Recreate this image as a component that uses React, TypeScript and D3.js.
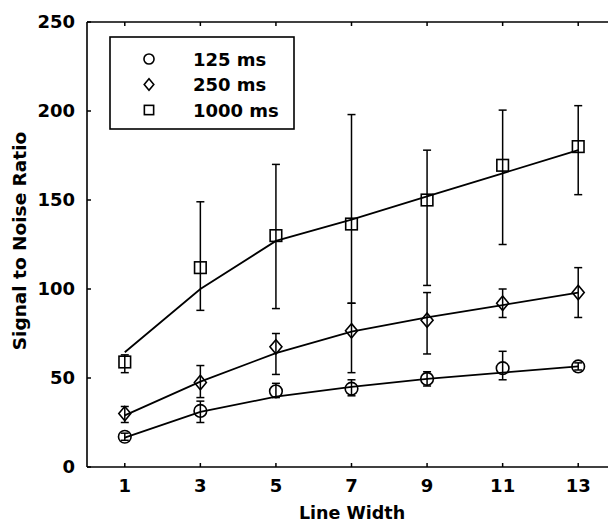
import React from "react";
import * as d3 from "d3";

const widths = [1, 3, 5, 7, 9, 11, 13];

const snr125 = [17, 31.5, 42.5, 44, 49.5, 55.5, 56.5];
const hi125 = [19, 37, 47, 49, 53.5, 65, 58.5];
const lo125 = [15, 25, 39, 40, 45.5, 49, 54.5];
const fit125 = [16.5, 31, 39.5, 45, 49.5, 53, 56.5];

const snr250 = [30, 47.5, 67.5, 76.5, 82.5, 92, 98];
const hi250 = [34, 57, 75, 92, 98, 100, 112];
const lo250 = [25, 39, 52, 53, 63.5, 84, 84];
const fit250 = [29, 48, 64, 76, 84, 91, 98];

const snr1000 = [59, 112, 130, 136.5, 150, 169.5, 180];
const hi1000 = [63, 149, 170, 198, 178, 200.5, 203];
const lo1000 = [53, 88, 89, 92, 102, 125, 153];
const fit1000 = [64.5, 100, 127, 139, 152, 165, 178];

const xTicks = [1, 3, 5, 7, 9, 11, 13];
const yTicks = [0, 50, 100, 150, 200, 250];
const legendLabels = ["125 ms", "250 ms", "1000 ms"];

const W = 608;
const H = 527;
const FONT = "'DejaVu Sans', sans-serif";

type Shape = "circle" | "diamond" | "square";

function Marker({ shape, x, y, s = 1 }: { shape: Shape; x: number; y: number; s?: number }) {
  const common = { fill: "none", stroke: "#000", strokeWidth: 1.6 };
  if (shape === "circle") return <circle cx={x} cy={y} r={6.3 * s} {...common} />;
  if (shape === "square")
    return <rect x={x - 5.8 * s} y={y - 5.8 * s} width={11.6 * s} height={11.6 * s} {...common} />;
  const hw = 6 * s, hh = 7.2 * s;
  return <path d={`M${x},${y - hh}L${x + hw},${y}L${x},${y + hh}L${x - hw},${y}Z`} {...common} />;
}

export default function App() {
  const x = d3.scaleLinear().domain([0, 14]).range([87, 616]);
  const y = d3.scaleLinear().domain([0, 250]).range([467, 22]);
  const line = d3
    .line<number>()
    .x((_, i) => x(widths[i]))
    .y((d) => y(d));

  const series: { shape: Shape; v: number[]; hi: number[]; lo: number[]; fit: number[] }[] = [
    { shape: "circle", v: snr125, hi: hi125, lo: lo125, fit: fit125 },
    { shape: "diamond", v: snr250, hi: hi250, lo: lo250, fit: fit250 },
    { shape: "square", v: snr1000, hi: hi1000, lo: lo1000, fit: fit1000 },
  ];
  const [x0] = x.range();
  const [yb, yt] = y.range();
  const cap = 4;

  return (
    <svg
      width={W}
      height={H}
      style={{ position: "absolute", left: 0, top: 0, background: "#fff" }}
      fontFamily={FONT}
      fontWeight={700}
    >
      <rect x={0} y={0} width={W} height={H} fill="#fff" />
      {series.map((s, i) => (
        <path key={"f" + i} d={line(s.fit) || ""} fill="none" stroke="#000" strokeWidth={1.8} />
      ))}
      {series.map((s, i) =>
        widths.map((w, j) => (
          <g key={`e${i}-${j}`} stroke="#000" strokeWidth={1.5}>
            <line x1={x(w)} x2={x(w)} y1={y(s.hi[j])} y2={y(s.lo[j])} />
            <line x1={x(w) - cap} x2={x(w) + cap} y1={y(s.hi[j])} y2={y(s.hi[j])} />
            <line x1={x(w) - cap} x2={x(w) + cap} y1={y(s.lo[j])} y2={y(s.lo[j])} />
          </g>
        ))
      )}
      {series.map((s, i) =>
        widths.map((w, j) => <Marker key={`m${i}-${j}`} shape={s.shape} x={x(w)} y={y(s.v[j])} />)
      )}
      <g stroke="#000" strokeWidth={1.6} fill="none">
        <line x1={x0} x2={x0} y1={yt} y2={yb} />
        <line x1={x0} x2={W} y1={yb} y2={yb} />
        <line x1={x0} x2={W} y1={yt} y2={yt} />
      </g>
      {xTicks.map((t) => (
        <g key={"xt" + t}>
          <line x1={x(t)} x2={x(t)} y1={yb} y2={yb - 4} stroke="#000" strokeWidth={1.5} />
          <line x1={x(t)} x2={x(t)} y1={yt} y2={yt + 4} stroke="#000" strokeWidth={1.5} />
          <text x={x(t)} y={yb + 25} textAnchor="middle" fontSize={18}>
            {t}
          </text>
        </g>
      ))}
      {yTicks.map((t) => (
        <g key={"yt" + t}>
          <line x1={x0} x2={x0 + 4} y1={y(t)} y2={y(t)} stroke="#000" strokeWidth={1.5} />
          <text x={x0 - 12} y={y(t)} dy="0.36em" textAnchor="end" fontSize={18}>
            {t}
          </text>
        </g>
      ))}
      <text x={352} y={519} textAnchor="middle" fontSize={17.5}>
        Line Width
      </text>
      <text transform="translate(26,241) rotate(-90)" textAnchor="middle" fontSize={18.5}>
        Signal to Noise Ratio
      </text>
      <rect x={110} y={37} width={184} height={92} fill="#fff" stroke="#000" strokeWidth={1.6} />
      {legendLabels.map((l, i) => (
        <g key={l}>
          <Marker shape={series[i].shape} x={149} y={59 + i * 25.5} s={0.8} />
          <text x={193} y={65.5 + i * 25.5} fontSize={18}>
            {l}
          </text>
        </g>
      ))}
    </svg>
  );
}
